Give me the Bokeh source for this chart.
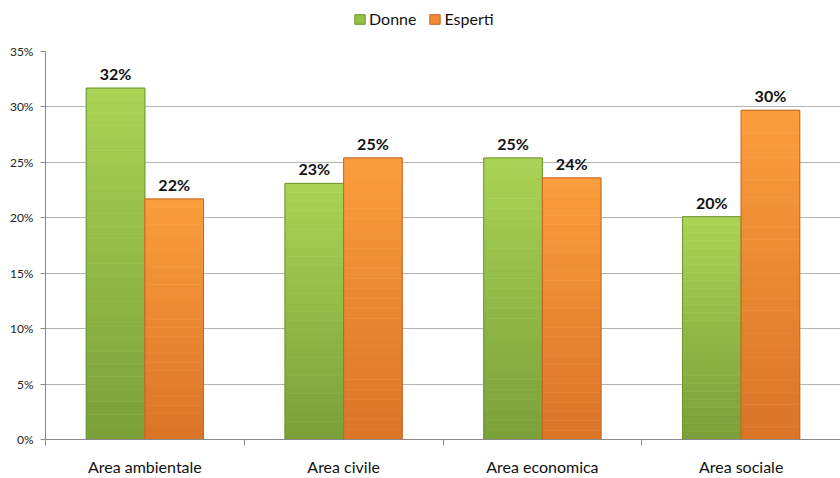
import numpy as np
from bokeh.plotting import figure
from bokeh.layouts import column
from bokeh.models import (FixedTicker, NumeralTickFormatter, Legend, LegendItem,
                          ColumnDataSource, Range1d)
from bokeh.core.properties import value
from bokeh.embed import file_html
from bokeh.resources import INLINE

categories = ["Area ambientale", "Area civile", "Area economica", "Area sociale"]
series_names = ["Donne", "Esperti"]
donne = [0.317, 0.231, 0.254, 0.201]
esperti = [0.217, 0.254, 0.236, 0.297]
y_ticks = [0, 0.05, 0.10, 0.15, 0.20, 0.25, 0.30, 0.35]

FONT = "Lato"
BAR_W = 0.295
N_SLICES = 28

green_top, green_bot, green_edge = (170, 212, 84), (122, 160, 58), "#6f9330"
orange_top, orange_bot, orange_edge = (251, 158, 60), (218, 116, 40), "#c5651f"


def hexc(c):
    return "#%02x%02x%02x" % tuple(int(round(v)) for v in c)


# ---- legend strip (separate small figure above the chart) ----
lf = figure(width=840, height=40, output_backend="svg", toolbar_location=None,
            x_range=Range1d(0, 1), y_range=Range1d(0, 1),
            min_border_left=0, min_border_right=0, min_border_top=0, min_border_bottom=0)
lf.axis.visible = False
lf.grid.visible = False
lf.outline_line_color = None
lg1 = lf.quad(left=[-10], right=[-9], bottom=[-10], top=[-9],
              fill_color=hexc((150, 192, 72)), line_color=green_edge)
lg2 = lf.quad(left=[-10], right=[-9], bottom=[-10], top=[-9],
              fill_color=hexc((240, 140, 50)), line_color=orange_edge)
legend = Legend(items=[LegendItem(label=series_names[0], renderers=[lg1]),
                       LegendItem(label=series_names[1], renderers=[lg2])],
                orientation="horizontal", location=(308, 12),
                border_line_color=None, background_fill_alpha=0,
                label_text_font=FONT, label_text_font_size="16px",
                label_text_color="#111111", glyph_width=13, glyph_height=12,
                spacing=12, padding=0, margin=0, label_standoff=3)
lf.add_layout(legend, "center")

# ---- main chart ----
p = figure(width=840, height=438, output_backend="svg", toolbar_location=None,
           x_range=Range1d(0, 4), y_range=Range1d(0, 0.35),
           min_border_left=45, min_border_right=0, min_border_bottom=35,
           min_border_top=11)
p.outline_line_color = None
p.background_fill_color = "white"
p.border_fill_color = "white"


def draw_series(vals, offset, top_c, bot_c, edge):
    xs, bottoms, tops, colors = [], [], [], []
    for i, v in enumerate(vals):
        cx = i + 0.5 + offset
        for k in range(N_SLICES):
            b = v * k / N_SLICES
            t = v * (k + 1) / N_SLICES
            f = (k + 0.5) / N_SLICES
            col = tuple(bot_c[j] + (top_c[j] - bot_c[j]) * f for j in range(3))
            xs.append(cx); bottoms.append(b); tops.append(t); colors.append(hexc(col))
    src = ColumnDataSource(dict(x=xs, bottom=bottoms, top=tops, color=colors))
    p.vbar(x="x", bottom="bottom", top="top", width=BAR_W, fill_color="color",
           line_color="color", line_width=0.6, source=src)
    cx = [i + 0.5 + offset for i in range(len(vals))]
    src2 = ColumnDataSource(dict(x=cx, top=vals,
                                 lab=[f"{round(v * 100)}%" for v in vals]))
    r = p.vbar(x="x", bottom=0, top="top", width=BAR_W, fill_color=None,
               line_color=edge, line_width=1, source=src2)
    p.text(x="x", y="top", text="lab", source=src2, text_align="center",
           text_baseline="bottom", y_offset=-5, text_font=value(FONT),
           text_font_style="bold", text_font_size="16px", text_color="#111111")
    return r


draw_series(donne, -BAR_W / 2, green_top, green_bot, green_edge)
draw_series(esperti, BAR_W / 2, orange_top, orange_bot, orange_edge)

# axes
p.yaxis.ticker = FixedTicker(ticks=y_ticks)
p.yaxis.formatter = NumeralTickFormatter(format="0%")
p.yaxis.major_label_text_font = FONT
p.yaxis.major_label_text_font_size = "12px"
p.yaxis.major_label_text_color = "#222222"
p.yaxis.axis_line_color = "#8a8a8a"
p.yaxis.major_tick_line_color = "#8a8a8a"
p.yaxis.major_tick_in = 0
p.yaxis.major_tick_out = 5
p.yaxis.minor_tick_line_color = None
p.yaxis.major_label_standoff = 7

p.xaxis.ticker = FixedTicker(ticks=[i + 0.5 for i in range(len(categories))],
                             minor_ticks=list(range(len(categories) + 1)))
p.xaxis.major_label_overrides = {i + 0.5: c for i, c in enumerate(categories)}
p.xaxis.major_tick_line_color = None
p.xaxis.minor_tick_line_color = "#8a8a8a"
p.xaxis.minor_tick_in = 0
p.xaxis.minor_tick_out = 6
p.xaxis.axis_line_color = "#8a8a8a"
p.xaxis.major_label_text_font = FONT
p.xaxis.major_label_text_font_size = "16px"
p.xaxis.major_label_text_color = "#111111"
p.xaxis.major_label_standoff = 11

p.xgrid.grid_line_color = None
p.ygrid.ticker = FixedTicker(ticks=y_ticks)
p.ygrid.grid_line_color = "#b4b4b4"
p.ygrid.grid_line_width = 1

layout = column(lf, p, spacing=0)
open("out.html", "w").write(file_html(layout, INLINE))
